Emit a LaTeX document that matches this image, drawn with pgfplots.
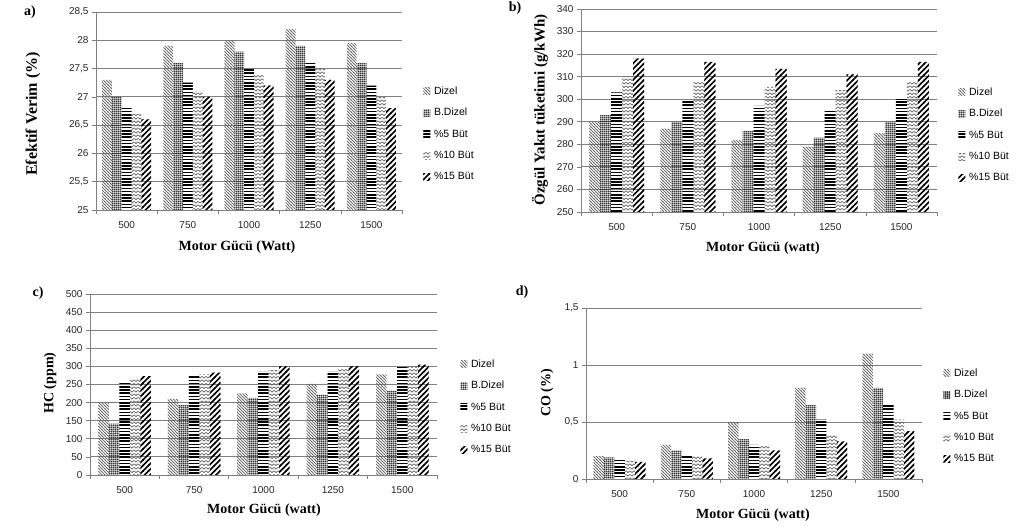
\documentclass[border=0pt]{standalone}
\usepackage{fontspec}
\setmainfont{Liberation Serif}
\newfontfamily\sans{Liberation Sans}
\usepackage{pgfplots}
\pgfplotsset{compat=1.18}
\usetikzlibrary{patterns}

\pgfdeclarepatternformonly{dizel}{\pgfqpoint{-1pt}{-1pt}}{\pgfqpoint{4pt}{4pt}}{\pgfqpoint{3pt}{3pt}}{%
  \pgfsetlinewidth{0.7pt}%
  \pgfpathmoveto{\pgfqpoint{-0.5pt}{3.5pt}}\pgfpathlineto{\pgfqpoint{3.5pt}{-0.5pt}}%
  \pgfusepath{stroke}}
\pgfdeclarepatternformonly{bdizel}{\pgfqpoint{0pt}{0pt}}{\pgfqpoint{2.2pt}{2.2pt}}{\pgfqpoint{2.2pt}{2.2pt}}{%
  \pgfsetlinewidth{1.1pt}%
  \pgfpathmoveto{\pgfqpoint{0pt}{1.1pt}}\pgfpathlineto{\pgfqpoint{2.2pt}{1.1pt}}%
  \pgfpathmoveto{\pgfqpoint{1.1pt}{0pt}}\pgfpathlineto{\pgfqpoint{1.1pt}{2.2pt}}%
  \pgfusepath{stroke}}
\pgfdeclarepatternformonly{hbut}{\pgfqpoint{-0.5pt}{0pt}}{\pgfqpoint{3.5pt}{3.2pt}}{\pgfqpoint{3pt}{3.2pt}}{%
  \pgfsetlinewidth{1.6pt}%
  \pgfpathmoveto{\pgfqpoint{-0.5pt}{1.6pt}}\pgfpathlineto{\pgfqpoint{3.5pt}{1.6pt}}%
  \pgfusepath{stroke}}
\pgfdeclarepatternformonly{zigzag}{\pgfqpoint{-0.5pt}{0pt}}{\pgfqpoint{4.5pt}{3.5pt}}{\pgfqpoint{4pt}{3.5pt}}{%
  \pgfsetlinewidth{0.7pt}%
  \pgfpathmoveto{\pgfqpoint{-0.3pt}{0.8pt}}\pgfpathlineto{\pgfqpoint{2pt}{2.6pt}}\pgfpathlineto{\pgfqpoint{4.3pt}{0.8pt}}%
  \pgfusepath{stroke}}
\pgfdeclarepatternformonly{thick}{\pgfqpoint{-1pt}{-1pt}}{\pgfqpoint{6.5pt}{6.5pt}}{\pgfqpoint{5.5pt}{5.5pt}}{%
  \pgfsetlinewidth{1.7pt}%
  \pgfpathmoveto{\pgfqpoint{-0.5pt}{-0.5pt}}\pgfpathlineto{\pgfqpoint{6pt}{6pt}}%
  \pgfusepath{stroke}}

\pgfplotsset{
  limg/.style={legend image code/.code={\path[##1] (0pt,-3.5pt) rectangle (7pt,3.5pt);}},
  pDizel/.style={draw=none, pattern=dizel, pattern color=black!60, limg},
  pBDizel/.style={draw=none, pattern=bdizel, pattern color=black!85, limg},
  pFive/.style={draw=none, pattern=hbut, pattern color=black, limg},
  pTen/.style={draw=none, pattern=zigzag, pattern color=black!60, limg},
  pFifteen/.style={draw=none, pattern=thick, pattern color=black, limg},
  panel/.style={
    scale only axis, ybar=0pt, enlargelimits=false, anchor=south west,
    xmin=-0.5, xmax=4.5,
    xtick={-0.5,0.5,...,4.5}, xticklabels={},
    extra x ticks={0,1,2,3,4}, extra x tick labels={500,750,1000,1250,1500},
    extra x tick style={major tick length=0pt, xticklabel style={yshift=-8pt}},
    axis x line*=bottom, axis y line*=left,
    axis line style={gray, -},
    tick align=outside, major tick length=4pt,
    tick style={gray, line width=0.6pt},
    ymajorgrids, grid style={gray, line width=0.8pt},
    tick label style={font=\sans\fontsize{10}{12}\selectfont, text=black!85},
    /pgf/number format/use comma, /pgf/number format/assume math mode=true,
    legend style={draw=none, fill=none, anchor=west,
      font=\sans\fontsize{10.5}{12}\selectfont, row sep=8.5pt},
    legend cell align=left,
  },
}

\begin{document}
\begin{tikzpicture}[x=1pt,y=1pt]
\useasboundingbox (0,0) rectangle (1023,526);

% ---- a)
\begin{axis}[panel, at={(96pt,316pt)}, width=306pt, height=198pt, bar width=9.8pt,
  ymin=25, ymax=28.5, ytick={25,25.5,...,28.5},
  legend style={at={(1.059,0.384)}}]
\addplot[pDizel] coordinates {(0,27.3) (1,27.9) (2,28.0) (3,28.2) (4,27.95)};
\addplot[pBDizel] coordinates {(0,27.0) (1,27.6) (2,27.8) (3,27.9) (4,27.6)};
\addplot[pFive] coordinates {(0,26.8) (1,27.25) (2,27.5) (3,27.6) (4,27.2)};
\addplot[pTen] coordinates {(0,26.7) (1,27.1) (2,27.4) (3,27.5) (4,27.0)};
\addplot[pFifteen] coordinates {(0,26.6) (1,27.0) (2,27.2) (3,27.3) (4,26.8)};
\legend{\,Dizel, \,B.Dizel, \,\%5 Büt, \,\%10 Büt, \,\%15 Büt}
\end{axis}

% ---- b)
\begin{axis}[panel, at={(581pt,314pt)}, width=356pt, height=203pt, bar width=11pt,
  ymin=250, ymax=340, ytick={250,260,...,340},
  legend style={at={(1.051,0.379)}}]
\addplot[pDizel] coordinates {(0,290) (1,287) (2,282) (3,279) (4,285)};
\addplot[pBDizel] coordinates {(0,293) (1,290) (2,286) (3,283) (4,290)};
\addplot[pFive] coordinates {(0,303) (1,299.5) (2,297) (3,295) (4,300)};
\addplot[pTen] coordinates {(0,310) (1,308) (2,305.5) (3,304) (4,308)};
\addplot[pFifteen] coordinates {(0,318) (1,316.5) (2,313.5) (3,311) (4,316.5)};
\legend{\,Dizel, \,B.Dizel, \,\%5 Büt, \,\%10 Büt, \,\%15 Büt}
\end{axis}

% ---- c)
\begin{axis}[panel, at={(90pt,51pt)}, width=347pt, height=181pt, bar width=10.5pt,
  ymin=0, ymax=500, ytick={0,50,...,500},
  legend style={at={(1.058,0.376)}}]
\addplot[pDizel] coordinates {(0,200) (1,210) (2,225) (3,252) (4,278)};
\addplot[pBDizel] coordinates {(0,142) (1,193) (2,213) (3,222) (4,233)};
\addplot[pFive] coordinates {(0,255) (1,275) (2,285) (3,285) (4,298)};
\addplot[pTen] coordinates {(0,265) (1,278) (2,290) (3,295) (4,300)};
\addplot[pFifteen] coordinates {(0,273) (1,283) (2,300) (3,300) (4,305)};
\legend{\,Dizel, \,B.Dizel, \,\%5 Büt, \,\%10 Büt, \,\%15 Büt}
\end{axis}

% ---- d)
\begin{axis}[panel, at={(586pt,47pt)}, width=336pt, height=171pt, bar width=10.4pt,
  ymin=0, ymax=1.5, ytick={0,0.5,1,1.5},
  legend style={at={(1.054,0.368)}}]
\addplot[pDizel] coordinates {(0,0.2) (1,0.3) (2,0.5) (3,0.8) (4,1.1)};
\addplot[pBDizel] coordinates {(0,0.19) (1,0.25) (2,0.35) (3,0.65) (4,0.8)};
\addplot[pFive] coordinates {(0,0.17) (1,0.21) (2,0.30) (3,0.52) (4,0.65)};
\addplot[pTen] coordinates {(0,0.16) (1,0.20) (2,0.30) (3,0.39) (4,0.52)};
\addplot[pFifteen] coordinates {(0,0.15) (1,0.18) (2,0.25) (3,0.33) (4,0.42)};
\legend{\,Dizel, \,B.Dizel, \,\%5 Büt, \,\%10 Büt, \,\%15 Büt}
\end{axis}

% labels
\begin{scope}[every node/.style={font=\bfseries\fontsize{14}{16}\selectfont}]
\node[rotate=90, font=\bfseries\fontsize{16}{18}\selectfont] at (33,412) {Efektif Verim (\%)};
\node[rotate=90, font=\bfseries\fontsize{15}{17}\selectfont] at (540,416) {Özgül Yakıt tüketimi (g/kWh)};
\node[rotate=90] at (50,143) {HC (ppm)};
\node[rotate=90] at (547,133) {CO (\%)};
\node at (237,279) {Motor Gücü (Watt)};
\node at (763,278) {Motor Gücü (watt)};
\node at (264,16) {Motor Gücü (watt)};
\node at (753,11) {Motor Gücü (watt)};
\node at (30,514) {a)};
\node at (515,518) {b)};
\node at (38,233) {c)};
\node at (522,234) {d)};
\end{scope}
\end{tikzpicture}
\end{document}
